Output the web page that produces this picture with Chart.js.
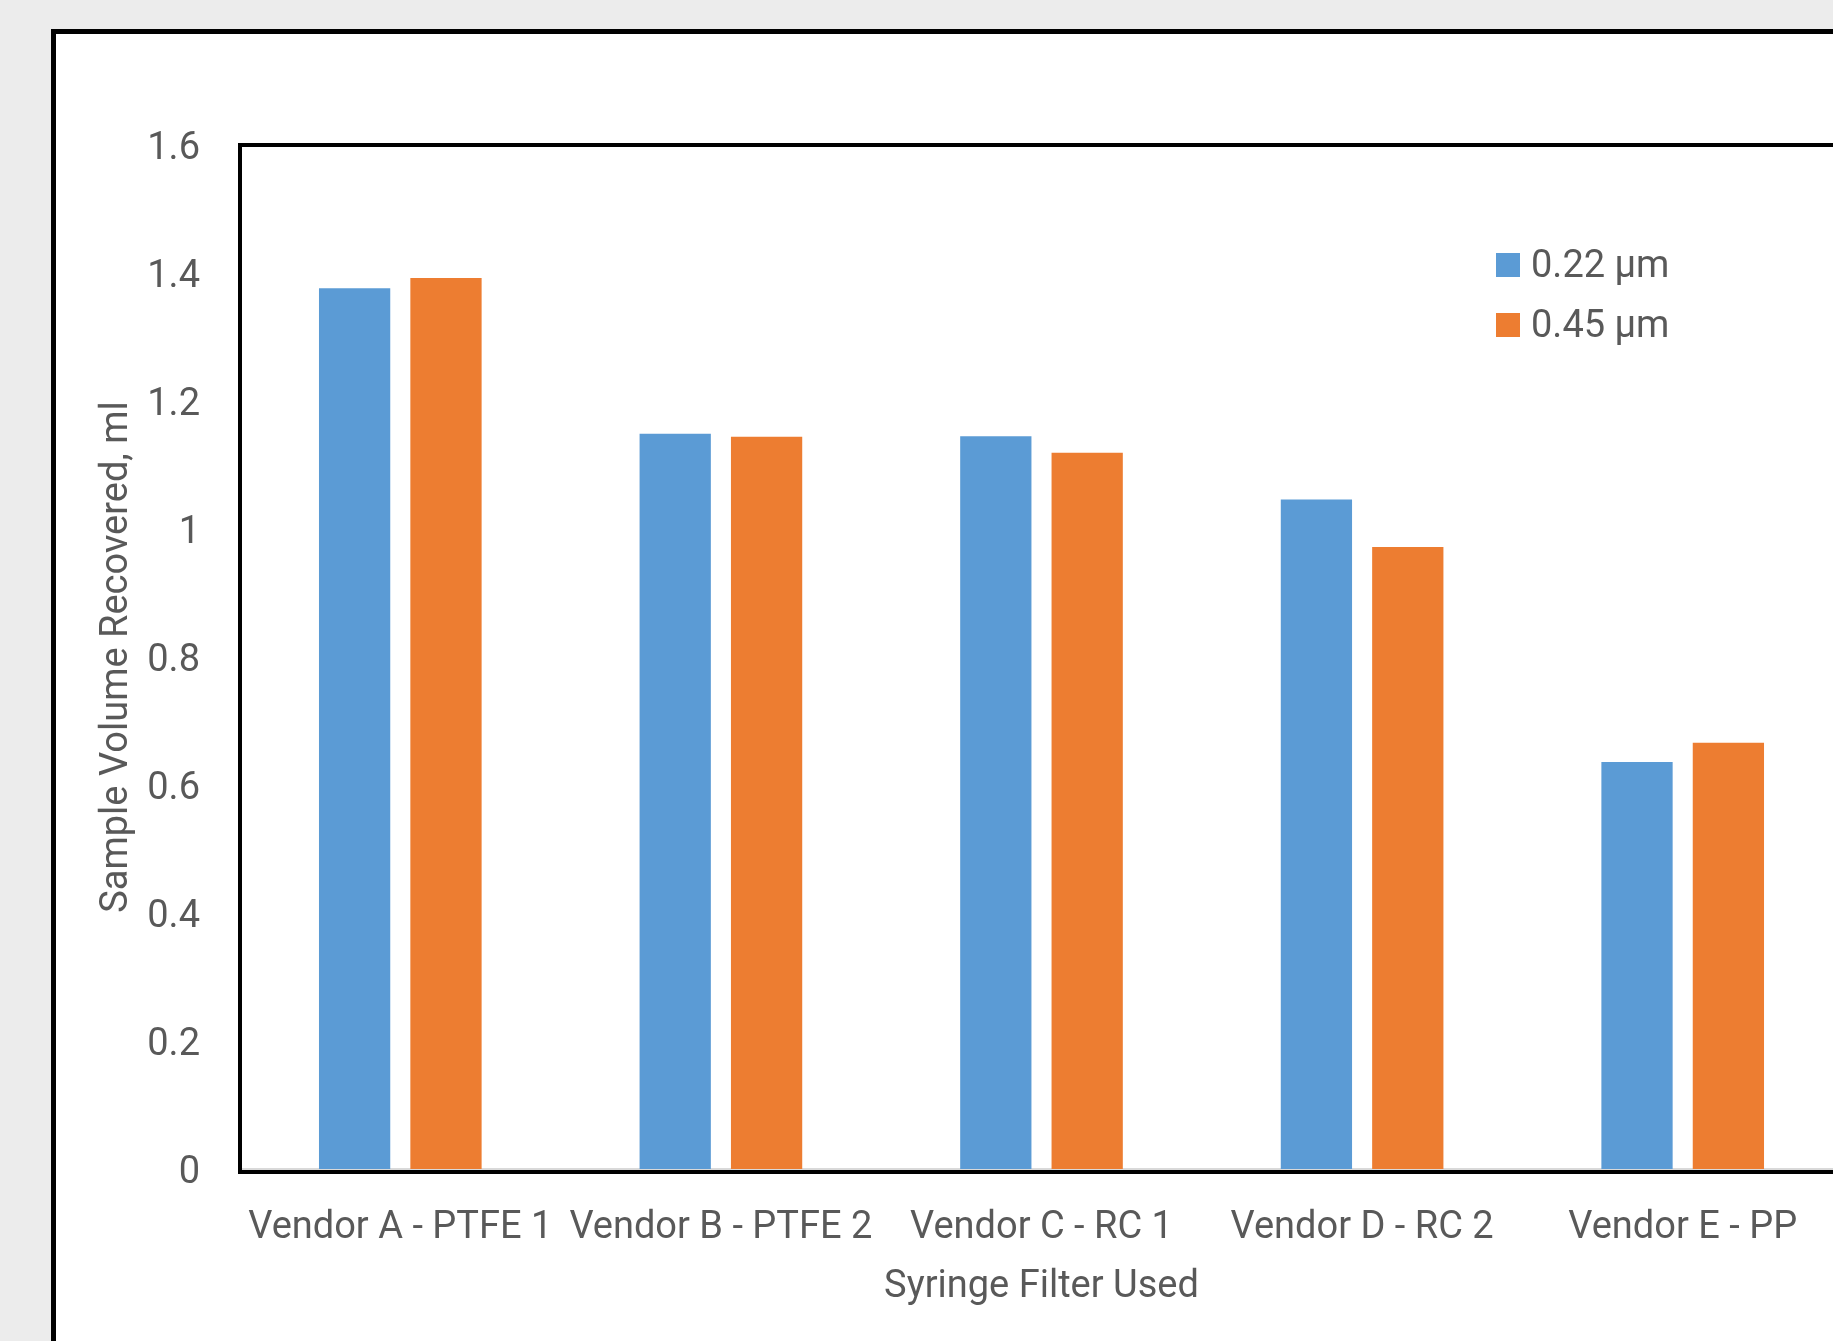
<!DOCTYPE html>
<html>
<head>
<meta charset="utf-8">
<script src="https://cdn.jsdelivr.net/npm/chart.js@4"></script>
<style>
  body { margin: 0; background: #ececec; overflow: hidden; width: 1833px; height: 1341px; position: relative; }
  #frame { position: absolute; left: 51px; top: 29px; width: 2000px; height: 2000px; border: 5px solid #000; background: #fff; }
  #myChart { position: absolute; left: 0; top: 0; }
</style>
</head>
<body>
<div id="frame"></div>
<canvas id="myChart" width="1900" height="1341"></canvas>
<script>
const categories = ['Vendor A - PTFE 1', 'Vendor B - PTFE 2', 'Vendor C - RC 1', 'Vendor D - RC 2', 'Vendor E - PP'];
const small = [1.376, 1.149, 1.145, 1.046, 0.636];   // 0.22 µm
const large = [1.392, 1.144, 1.119, 0.972, 0.666];   // 0.45 µm
const seriesNames = ['0.22 µm', '0.45 µm'];
const yTicks = [0, 0.2, 0.4, 0.6, 0.8, 1, 1.2, 1.4, 1.6];

const textColor = '#595959';
const font = { family: 'Roboto', size: 38 };

// black box round the plot area
const plotBox = {
    id: 'plotBox',
    afterDraw(chart) {
        const { ctx, chartArea: a } = chart;
        ctx.save();
        ctx.strokeStyle = '#000';
        ctx.lineWidth = 4;
        ctx.strokeRect(a.left, a.top, a.right - a.left, a.bottom - a.top + 3);
        ctx.restore();
    }
};

// legend with squares, set inside the plot
const boxLegend = {
    id: 'boxLegend',
    afterDraw(chart) {
        const ctx = chart.ctx;
        ctx.save();
        ctx.font = font.size + 'px ' + font.family;
        ctx.textBaseline = 'middle';
        chart.data.datasets.forEach((ds, i) => {
            const y = 253 + i * 60;
            ctx.fillStyle = ds.backgroundColor;
            ctx.fillRect(1496, y, 24, 24);
            ctx.fillStyle = textColor;
            ctx.fillText(ds.label, 1531, y + 14);
        });
        ctx.restore();
    }
};

const ctx = document.getElementById('myChart');

new Chart(ctx, {
    type: 'bar',
    data: {
        labels: categories,
        datasets: [{
            label: seriesNames[0],
            data: small,
            backgroundColor: '#5b9bd5',
            barPercentage: 0.78,
            categoryPercentage: 0.57
        }, {
            label: seriesNames[1],
            data: large,
            backgroundColor: '#ed7d31',
            barPercentage: 0.78,
            categoryPercentage: 0.57
        }]
    },
    options: {
        responsive: false,
        animation: false,
        devicePixelRatio: 1,
        layout: { padding: { left: 0, top: 145, right: 57, bottom: 0 } },
        plugins: {
            legend: { display: false },
            tooltip: { enabled: false }
        },
        scales: {
            x: {
                grid: { display: false },
                border: { display: true, color: '#d9d9d9', width: 2 },
                ticks: { color: textColor, font: font, maxRotation: 0, autoSkip: false, padding: 29 },
                title: { display: true, text: 'Syringe Filter Used', color: textColor, font: font, padding: { top: 0, bottom: 31 } },
                afterFit(scale) { scale.height = 172; }
            },
            y: {
                min: 0,
                max: 1.6,
                afterBuildTicks(scale) { scale.ticks = yTicks.map(v => ({ value: v })); },
                grid: { display: false, drawTicks: false },
                border: { display: false },
                ticks: { color: textColor, font: font, padding: 40, labelOffset: 4, callback: v => String(v) },
                title: { display: true, text: 'Sample Volume Recovered, ml', color: textColor, font: font, padding: { top: 95, bottom: 0 } },
                afterFit(scale) { scale.width = 240; }
            }
        }
    },
    plugins: [plotBox, boxLegend]
});
</script>
</body>
</html>
